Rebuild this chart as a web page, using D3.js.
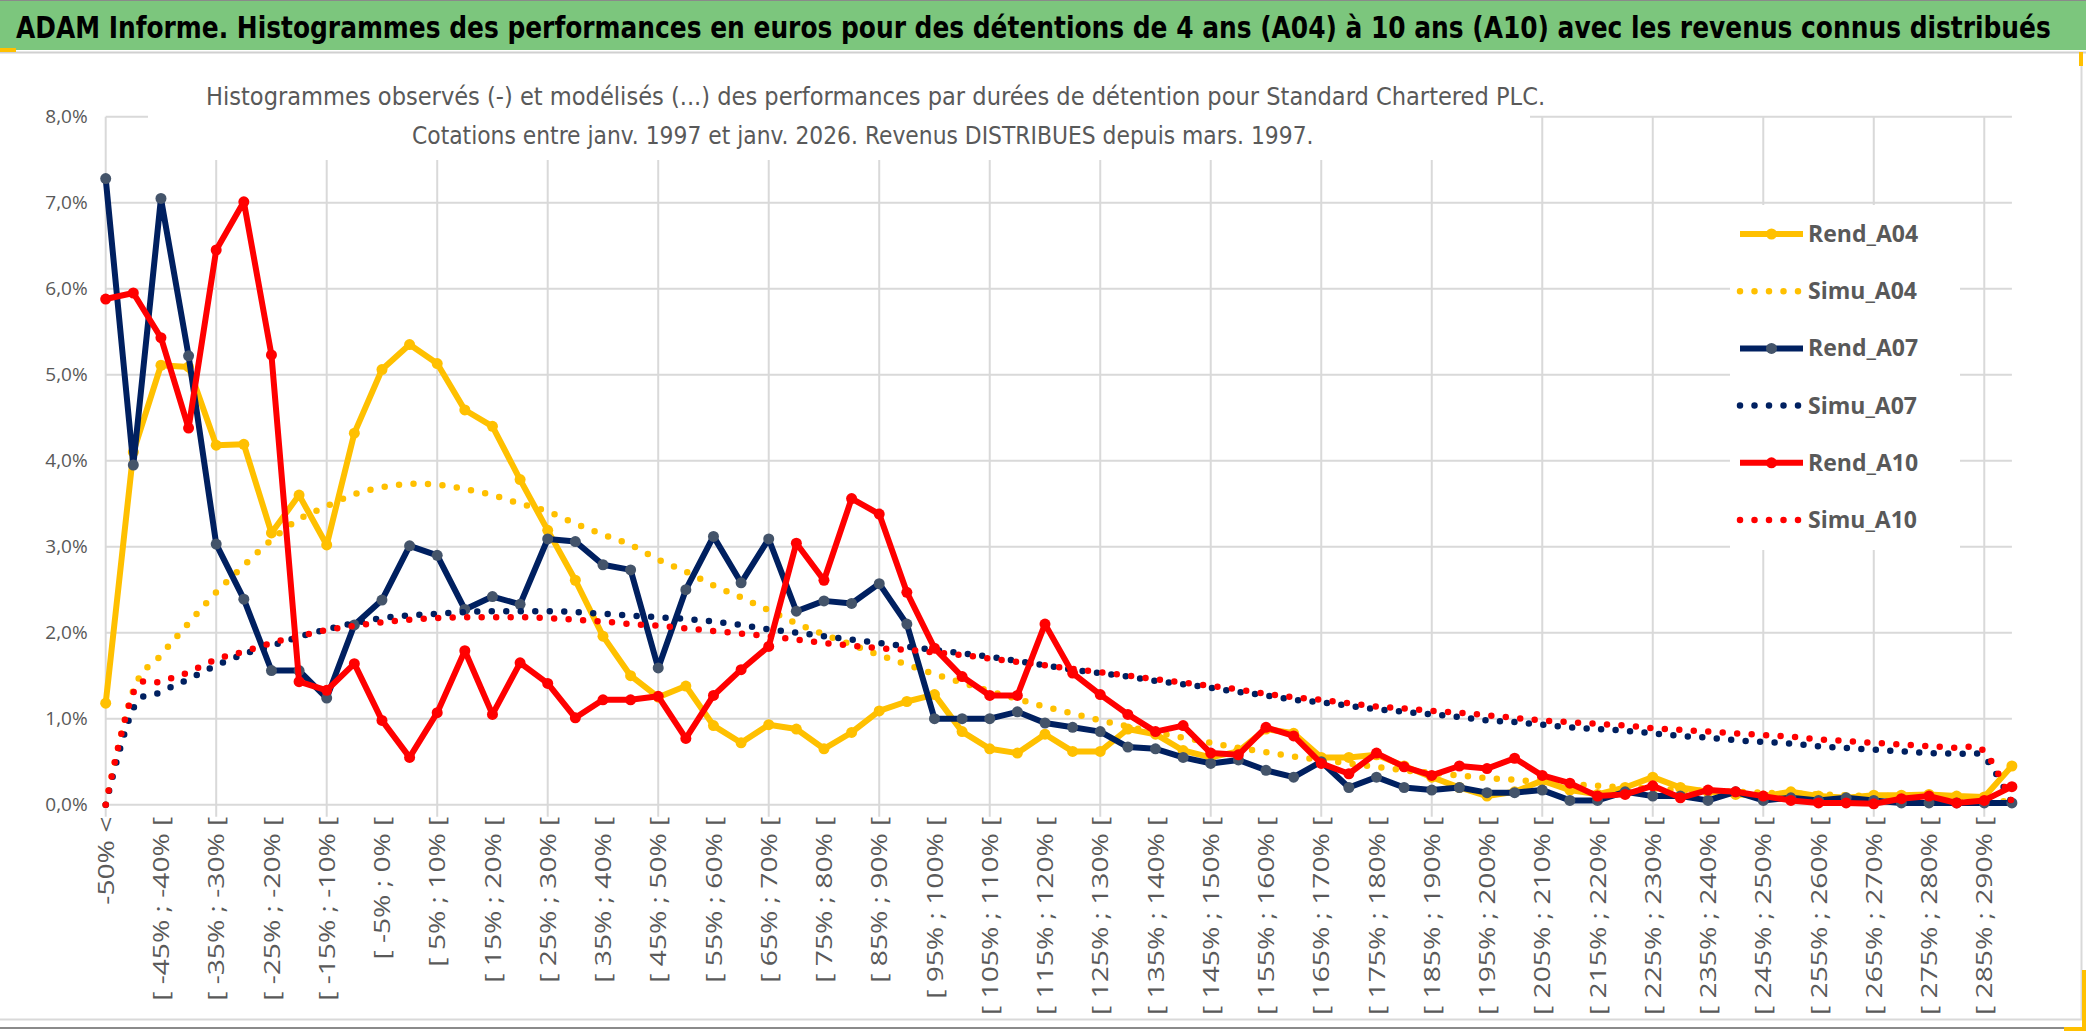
<!DOCTYPE html>
<html>
<head>
<meta charset="utf-8">
<script src="https://cdn.jsdelivr.net/npm/d3@7"></script>
<style>
  html, body { margin: 0; padding: 0; background: #ffffff; }
  svg { display: block; }
</style>
</head>
<body>
<svg id="chart"></svg>
<script>
// ---- data (values in %) ----
const categories = [
  "-50% <", "[ -50% ; -45% [", "[ -45% ; -40% [", "[ -40% ; -35% [", "[ -35% ; -30% [",
  "[ -30% ; -25% [", "[ -25% ; -20% [", "[ -20% ; -15% [", "[ -15% ; -10% [", "[ -10% ; -5% [",
  "[ -5% ; 0% [", "[ 0% ; 5% [", "[ 5% ; 10% [", "[ 10% ; 15% [", "[ 15% ; 20% [",
  "[ 20% ; 25% [", "[ 25% ; 30% [", "[ 30% ; 35% [", "[ 35% ; 40% [", "[ 40% ; 45% [",
  "[ 45% ; 50% [", "[ 50% ; 55% [", "[ 55% ; 60% [", "[ 60% ; 65% [", "[ 65% ; 70% [",
  "[ 70% ; 75% [", "[ 75% ; 80% [", "[ 80% ; 85% [", "[ 85% ; 90% [", "[ 90% ; 95% [",
  "[ 95% ; 100% [", "[ 100% ; 105% [", "[ 105% ; 110% [", "[ 110% ; 115% [", "[ 115% ; 120% [",
  "[ 120% ; 125% [", "[ 125% ; 130% [", "[ 130% ; 135% [", "[ 135% ; 140% [", "[ 140% ; 145% [",
  "[ 145% ; 150% [", "[ 150% ; 155% [", "[ 155% ; 160% [", "[ 160% ; 165% [", "[ 165% ; 170% [",
  "[ 170% ; 175% [", "[ 175% ; 180% [", "[ 180% ; 185% [", "[ 185% ; 190% [", "[ 190% ; 195% [",
  "[ 195% ; 200% [", "[ 200% ; 205% [", "[ 205% ; 210% [", "[ 210% ; 215% [", "[ 215% ; 220% [",
  "[ 220% ; 225% [", "[ 225% ; 230% [", "[ 230% ; 235% [", "[ 235% ; 240% [", "[ 240% ; 245% [",
  "[ 245% ; 250% [", "[ 250% ; 255% [", "[ 255% ; 260% [", "[ 260% ; 265% [", "[ 265% ; 270% [",
  "[ 270% ; 275% [", "[ 275% ; 280% [", "[ 280% ; 285% [", "[ 285% ; 290% [", "[ 290% ; 295% ["
];

const rendA04 = [
  1.18, 4.10, 5.11, 5.09, 4.18, 4.19, 3.16, 3.60, 3.02, 4.32,
  5.06, 5.35, 5.13, 4.59, 4.40, 3.78, 3.19, 2.61, 1.96, 1.50,
  1.25, 1.38, 0.92, 0.72, 0.93, 0.88, 0.65, 0.84, 1.09, 1.20,
  1.28, 0.85, 0.65, 0.60, 0.82, 0.62, 0.62, 0.88, 0.82, 0.63,
  0.55, 0.62, 0.88, 0.83, 0.55, 0.55, 0.58, 0.45, 0.32, 0.20,
  0.10, 0.15, 0.28, 0.17, 0.12, 0.20, 0.32, 0.20, 0.15, 0.12,
  0.10, 0.15, 0.10, 0.08, 0.11, 0.11, 0.12, 0.10, 0.09, 0.45
];
const simuA04 = [
  0.00, 1.33, 1.74, 2.11, 2.47, 2.78, 3.08, 3.32, 3.47, 3.61,
  3.69, 3.73, 3.72, 3.67, 3.60, 3.50, 3.41, 3.27, 3.14, 3.02,
  2.85, 2.71, 2.55, 2.41, 2.26, 2.11, 1.98, 1.86, 1.74, 1.63,
  1.52, 1.42, 1.32, 1.23, 1.14, 1.06, 0.98, 0.91, 0.84, 0.78,
  0.72, 0.66, 0.61, 0.56, 0.52, 0.48, 0.44, 0.40, 0.37, 0.34,
  0.31, 0.29, 0.26, 0.24, 0.22, 0.20, 0.19, 0.17, 0.16, 0.15,
  0.14, 0.13, 0.12, 0.11, 0.10, 0.10, 0.09, 0.08, 0.08, 0.02
];
const rendA07 = [
  7.28, 3.95, 7.05, 5.22, 3.03, 2.39, 1.56, 1.56, 1.24, 2.09,
  2.38, 3.01, 2.90, 2.27, 2.42, 2.33, 3.09, 3.06, 2.79, 2.73,
  1.59, 2.50, 3.12, 2.58, 3.09, 2.25, 2.37, 2.34, 2.57, 2.10,
  1.00, 1.00, 1.00, 1.08, 0.95, 0.90, 0.85, 0.67, 0.65, 0.55,
  0.48, 0.52, 0.40, 0.32, 0.50, 0.20, 0.32, 0.20, 0.17, 0.20,
  0.14, 0.14, 0.17, 0.05, 0.05, 0.15, 0.10, 0.10, 0.05, 0.15,
  0.05, 0.08, 0.05, 0.08, 0.05, 0.02, 0.02, 0.02, 0.02, 0.02
];
const simuA07 = [
  0.00, 1.12, 1.31, 1.46, 1.62, 1.75, 1.85, 1.95, 2.04, 2.11,
  2.17, 2.20, 2.22, 2.24, 2.25, 2.25, 2.25, 2.24, 2.22, 2.20,
  2.18, 2.16, 2.13, 2.09, 2.04, 2.00, 1.96, 1.92, 1.88, 1.84,
  1.80, 1.76, 1.72, 1.67, 1.62, 1.57, 1.53, 1.49, 1.44, 1.40,
  1.36, 1.31, 1.27, 1.22, 1.19, 1.15, 1.11, 1.08, 1.05, 1.02,
  0.98, 0.96, 0.93, 0.90, 0.88, 0.86, 0.83, 0.80, 0.78, 0.75,
  0.73, 0.71, 0.68, 0.66, 0.64, 0.62, 0.60, 0.59, 0.55, 0.02
];
const rendA10 = [
  5.88, 5.95, 5.43, 4.38, 6.45, 7.01, 5.23, 1.43, 1.33, 1.64,
  0.98, 0.55, 1.07, 1.79, 1.05, 1.65, 1.41, 1.01, 1.22, 1.22,
  1.26, 0.77, 1.27, 1.57, 1.84, 3.04, 2.61, 3.56, 3.38, 2.47,
  1.82, 1.49, 1.27, 1.27, 2.10, 1.53, 1.28, 1.05, 0.85, 0.92,
  0.60, 0.58, 0.90, 0.80, 0.48, 0.36, 0.60, 0.44, 0.34, 0.45,
  0.42, 0.54, 0.34, 0.25, 0.10, 0.12, 0.22, 0.08, 0.17, 0.15,
  0.10, 0.05, 0.02, 0.02, 0.01, 0.07, 0.10, 0.02, 0.05, 0.21
];
const simuA10 = [
  0.00, 1.30, 1.43, 1.54, 1.69, 1.78, 1.88, 1.96, 2.03, 2.08,
  2.12, 2.15, 2.17, 2.18, 2.18, 2.18, 2.17, 2.15, 2.13, 2.10,
  2.08, 2.05, 2.02, 1.99, 1.96, 1.92, 1.88, 1.85, 1.82, 1.80,
  1.77, 1.74, 1.70, 1.66, 1.62, 1.58, 1.54, 1.50, 1.46, 1.42,
  1.38, 1.34, 1.29, 1.25, 1.22, 1.18, 1.14, 1.12, 1.09, 1.07,
  1.04, 1.01, 0.98, 0.96, 0.94, 0.92, 0.89, 0.87, 0.85, 0.83,
  0.81, 0.79, 0.76, 0.74, 0.72, 0.70, 0.68, 0.66, 0.62, 0.03
];

const yTicks = [0, 1, 2, 3, 4, 5, 6, 7, 8];

const titleText = "ADAM Informe. Histogrammes des performances en euros pour des détentions de 4 ans (A04) à 10 ans (A10) avec les revenus connus distribués";
const subtitleLines = [
  "Histogrammes observés (-) et modélisés (...) des performances par durées de détention pour Standard Chartered PLC.",
  "Cotations entre janv. 1997 et janv. 2026. Revenus DISTRIBUES depuis mars. 1997."
];

const series = [
  { name: "Rend_A04", values: rendA04, color: "#FFC000", marker: "#FFC000", dotted: false },
  { name: "Simu_A04", values: simuA04, color: "#FFC000", dotted: true },
  { name: "Rend_A07", values: rendA07, color: "#002060", marker: "#44546A", dotted: false },
  { name: "Simu_A07", values: simuA07, color: "#002060", dotted: true },
  { name: "Rend_A10", values: rendA10, color: "#FF0000", marker: "#FF0000", dotted: false },
  { name: "Simu_A10", values: simuA10, color: "#FF0000", dotted: true }
];

// ---- layout ----
const W = 2086, H = 1031;
const plot = { left: 105.7, right: 2011.9, top: 116.7, bottom: 804.7 };
const txtFont = "'Open Sans', 'Liberation Sans', sans-serif";
const narrowFont = "'Liberation Sans Narrow', 'DejaVu Sans Condensed', 'Open Sans', sans-serif";
const grey = "#595959";
const gridColor = "#d9d9d9";

const svg = d3.select("#chart").attr("width", W).attr("height", H)
  .style("font-family", txtFont);

svg.append("rect").attr("width", W).attr("height", H).attr("fill", "#ffffff");

// squeeze a text horizontally so it spans `width` px (mimics the narrow Calibri face)
function fitText(sel, x0, y0, width, anchor) {
  const node = sel.node();
  const w = node.getComputedTextLength();
  const k = width / w;
  const tx = anchor === "middle" ? x0 - width / 2 : x0;
  sel.attr("x", 0).attr("y", 0).attr("text-anchor", "start")
    .attr("transform", `translate(${tx},${y0}) scale(${k},1)`);
}

// title bar
svg.append("rect").attr("x", 0).attr("y", 0).attr("width", W).attr("height", 50).attr("fill", "#7CC67D");
svg.append("line").attr("x1", 0).attr("x2", W).attr("y1", 0.5).attr("y2", 0.5).attr("stroke", "#8a8a8a");
svg.append("line").attr("x1", 0).attr("x2", W).attr("y1", 52.5).attr("y2", 52.5).attr("stroke", "#d0d0d0").attr("stroke-width", 2);
const title = svg.append("text")
  .attr("font-family", narrowFont)
  .attr("font-weight", "bold")
  .attr("font-size", 31)
  .attr("fill", "#000000")
  .text(titleText);
fitText(title, 16, 38, 2036, "start");

// chart area border
svg.append("line").attr("x1", 2081.5).attr("x2", 2081.5).attr("y1", 54).attr("y2", 1020).attr("stroke", gridColor).attr("stroke-width", 2);
svg.append("line").attr("x1", 0).attr("x2", 2082).attr("y1", 1019.5).attr("y2", 1019.5).attr("stroke", gridColor).attr("stroke-width", 2);
svg.append("line").attr("x1", 0).attr("x2", W).attr("y1", 1028).attr("y2", 1028).attr("stroke", "#8a8a8a").attr("stroke-width", 2);
// selection handles (yellow)
svg.append("rect").attr("x", 0).attr("y", 48).attr("width", 16).attr("height", 4).attr("fill", "#FFC000");
svg.append("rect").attr("x", 2079).attr("y", 52).attr("width", 4).attr("height", 14).attr("fill", "#FFC000");
svg.append("rect").attr("x", 2082).attr("y", 970).attr("width", 4).attr("height", 61).attr("fill", "#FFC000");
svg.append("rect").attr("x", 2064).attr("y", 1027).attr("width", 22).attr("height", 4).attr("fill", "#FFC000");

// ---- scales ----
const x = d3.scalePoint().domain(categories).range([plot.left, plot.right]);
const y = d3.scaleLinear().domain([0, 8]).range([plot.bottom, plot.top]);
const fr = d3.formatLocale({ decimal: ",", thousands: " ", grouping: [3], currency: ["", " €"] });
const pct = d => fr.format(".1f")(d) + "%";

// horizontal gridlines + y axis labels
const yAxis = d3.axisLeft(y).tickValues(yTicks).tickFormat(pct).tickSize(0).tickPadding(18);
const gy = svg.append("g").attr("transform", `translate(${plot.left},0)`).call(yAxis);
gy.select(".domain").remove();
gy.selectAll("text").attr("font-size", 19).attr("fill", grey).attr("font-family", txtFont);

svg.append("g").selectAll("line").data(yTicks).join("line")
  .attr("x1", plot.left).attr("x2", plot.right)
  .attr("y1", d => y(d)).attr("y2", d => y(d))
  .attr("stroke", gridColor).attr("stroke-width", 2);

// vertical gridlines every 4 categories (extending as tick marks below axis)
const gridCats = categories.filter((c, i) => i % 4 === 0);
svg.append("g").selectAll("line").data(gridCats).join("line")
  .attr("x1", d => x(d)).attr("x2", d => x(d))
  .attr("y1", plot.top).attr("y2", plot.bottom + 12)
  .attr("stroke", gridColor).attr("stroke-width", 2);

// x axis labels every 2 categories
const xAxis = d3.axisBottom(x).tickValues(categories.filter((c, i) => i % 2 === 0)).tickSize(0).tickPadding(0);
const gx = svg.append("g").attr("transform", `translate(0,${plot.bottom})`).call(xAxis);
gx.select(".domain").remove();
gx.selectAll("text")
  .attr("font-size", 22).attr("fill", grey).attr("font-family", txtFont)
  .attr("transform", "rotate(-90)")
  .attr("text-anchor", "end")
  .attr("x", -12).attr("y", 0).attr("dy", "0.35em")
  .each(function () {
    const len = this.getComputedTextLength();
    d3.select(this).attr("textLength", len * 1.28).attr("lengthAdjust", "spacingAndGlyphs");
  });

// subtitle box (covers gridlines)
svg.append("rect").attr("x", 148).attr("y", 56).attr("width", 1382).attr("height", 104).attr("fill", "#ffffff");
const subPos = [{ cx: 876, w: 1340, y: 105 }, { cx: 863, w: 902, y: 144 }];
subtitleLines.forEach((line, i) => {
  const t = svg.append("text")
    .attr("font-size", 25).attr("fill", grey)
    .attr("font-family", narrowFont)
    .text(line);
  fitText(t, subPos[i].cx, subPos[i].y, subPos[i].w, "middle");
});

// ---- series ----
const lineStraight = d3.line().x((d, i) => x(categories[i])).y(d => y(d));
const lineSmooth = d3.line().x((d, i) => x(categories[i])).y(d => y(d)).curve(d3.curveCardinal.tension(0));

const gs = svg.append("g");
series.forEach(s => {
  if (s.dotted) {
    gs.append("path").datum(s.values)
      .attr("fill", "none").attr("stroke", s.color)
      .attr("stroke-width", 6.5).attr("stroke-linecap", "round")
      .attr("stroke-dasharray", "0 14.5")
      .attr("d", lineSmooth);
  } else {
    gs.append("path").datum(s.values)
      .attr("fill", "none").attr("stroke", s.color)
      .attr("stroke-width", 6).attr("stroke-linejoin", "round")
      .attr("d", lineStraight);
    gs.append("g").selectAll("circle").data(s.values).join("circle")
      .attr("cx", (d, i) => x(categories[i])).attr("cy", d => y(d))
      .attr("r", 5.5).attr("fill", s.marker);
  }
});

// ---- legend ----
const legendY = d3.scalePoint().domain(series.map(s => s.name)).range([234, 520]);
const lg = svg.append("g");
lg.append("rect").attr("x", 1730).attr("y", 205).attr("width", 230).attr("height", 345).attr("fill", "#ffffff");
series.forEach(s => {
  const yy = legendY(s.name);
  lg.append("line").attr("x1", 1740).attr("x2", 1803).attr("y1", yy).attr("y2", yy)
    .attr("stroke", s.color)
    .attr("stroke-width", s.dotted ? 6.5 : 6)
    .attr("stroke-linecap", s.dotted ? "round" : "butt")
    .attr("stroke-dasharray", s.dotted ? "0 14.5" : null);
  if (!s.dotted) {
    lg.append("circle").attr("cx", 1771.5).attr("cy", yy).attr("r", 5.5).attr("fill", s.marker);
  }
  lg.append("text").attr("x", 1808).attr("y", yy).attr("dy", "0.35em")
    .attr("font-size", 23).attr("font-weight", "bold").attr("fill", grey)
    .text(s.name);
});
</script>
</body>
</html>
